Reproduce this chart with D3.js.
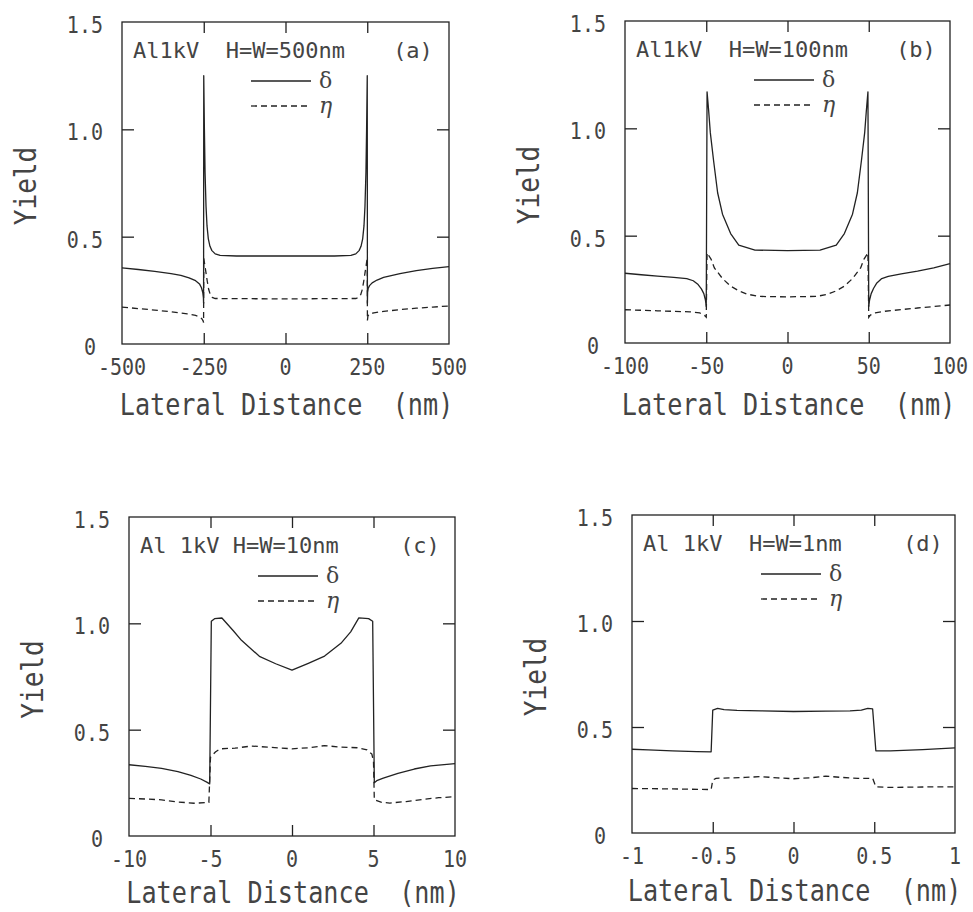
<!DOCTYPE html>
<html>
<head>
<meta charset="utf-8">
<script src="https://cdn.jsdelivr.net/npm/d3@7"></script>
<style>
  html, body { margin: 0; padding: 0; background: #fff; }
  svg { display: block; }
  text { font-family: 'DejaVu Sans Mono', monospace; fill: #444; }
</style>
</head>
<body>
<svg id="fig" width="973" height="912"></svg>
<script>
// ---- axis ticks and labels ----
const yTicks = [0, 0.5, 1.0, 1.5];
const yTickLabels = ["0", "0.5", "1.0", "1.5"];
const xTicksA = [-500, -250, 0, 250, 500];
const xTicksB = [-100, -50, 0, 50, 100];
const xTicksC = [-10, -5, 0, 5, 10];
const xTicksD = [-1, -0.5, 0, 0.5, 1];
const xTickLabelsA = ["-500", "-250", "0", "250", "500"];
const xTickLabelsB = ["-100", "-50", "0", "50", "100"];
const xTickLabelsC = ["-10", "-5", "0", "5", "10"];
const xTickLabelsD = ["-1", "-0.5", "0", "0.5", "1"];
const xAxisTitle = "Lateral Distance  (nm)";
const yAxisTitle = "Yield";
const legendNames = ["δ", "η"];

const titles = ["Al1kV  H=W=500nm", "Al1kV  H=W=100nm", "Al 1kV H=W=10nm", "Al 1kV  H=W=1nm"];
const tags = ["(a)", "(b)", "(c)", "(d)"];

// ---- yields vs lateral distance: [x (nm), yield] ----
// (a) H = W = 500 nm
const deltaA = [[-500,0.355],[-450,0.347],[-400,0.338],[-350,0.328],[-320,0.32],[-295,0.308],[-275,0.295],[-263,0.28],[-257,0.262],[-253,0.24],[-251,0.215],[-250.5,0.19],
  [-250,1.25],[-248,1.0],[-246,0.8],[-243,0.64],[-240,0.55],[-236,0.49],[-231,0.455],[-225,0.435],[-215,0.42],[-200,0.413],[-150,0.41],[0,0.41],[150,0.41],[200,0.413],[215,0.42],[225,0.435],[231,0.455],[236,0.49],[240,0.55],[243,0.64],[246,0.8],[248,1.0],[250,1.25],
  [250.5,0.19],[251,0.24],[253,0.26],[257,0.272],[265,0.285],[280,0.298],[300,0.31],[350,0.328],[400,0.342],[450,0.352],[500,0.36]];
const etaA = [[-500,0.172],[-450,0.165],[-400,0.158],[-350,0.15],[-300,0.14],[-275,0.133],[-262,0.126],[-256,0.118],[-252,0.108],[-250.5,0.1],
  [-250,0.4],[-247,0.37],[-243,0.33],[-239,0.29],[-235,0.255],[-230,0.23],[-224,0.217],[-215,0.212],[0,0.21],[215,0.212],[224,0.217],[230,0.23],[235,0.255],[239,0.29],[243,0.33],[247,0.37],[250,0.4],
  [250.5,0.11],[252,0.13],[256,0.14],[270,0.145],[300,0.152],[350,0.16],[400,0.167],[450,0.172],[500,0.177]];

// (b) H = W = 100 nm
const deltaB = [[-100,0.325],[-90,0.318],[-80,0.312],[-70,0.306],[-62,0.3],[-58,0.29],[-55,0.272],[-53,0.252],[-51.5,0.23],[-50.5,0.2],[-50,0.17],
  [-49.5,1.17],[-48.5,1.08],[-47.5,0.98],[-45.5,0.85],[-43,0.7],[-40,0.6],[-35,0.51],[-30,0.456],[-20,0.433],[0,0.43],[20,0.433],[30,0.456],[35,0.51],[40,0.6],[43,0.7],[45.5,0.85],[47.5,0.98],[48.5,1.08],[49.5,1.17],
  [50,0.17],[50.5,0.2],[51.5,0.23],[53,0.255],[55,0.28],[58,0.3],[62,0.31],[70,0.322],[80,0.335],[90,0.35],[100,0.37]];
const etaB = [[-100,0.155],[-80,0.15],[-60,0.145],[-54,0.14],[-51,0.128],[-50,0.12],
  [-49.5,0.42],[-47,0.39],[-45,0.35],[-40,0.3],[-35,0.265],[-30,0.243],[-25,0.228],[-18,0.217],[0,0.215],[18,0.217],[25,0.228],[30,0.243],[35,0.265],[40,0.3],[45,0.35],[47,0.39],[49.5,0.42],
  [50,0.12],[51,0.13],[54,0.14],[60,0.148],[80,0.163],[100,0.177]];

// (c) H = W = 10 nm
const deltaC = [[-10,0.335],[-9,0.327],[-8,0.318],[-7,0.303],[-6.2,0.285],[-5.6,0.268],[-5.2,0.252],[-5.05,0.245],
  [-4.95,1.01],[-4.75,1.022],[-4.3,1.025],[-3.6,0.965],[-3.1,0.92],[-2,0.845],[-1,0.81],[0,0.78],[1,0.812],[2,0.846],[3,0.906],[3.6,0.96],[4.1,1.026],[4.7,1.022],[4.95,1.01],
  [5.05,0.25],[5.2,0.26],[5.6,0.272],[6.5,0.295],[7.5,0.315],[8.5,0.33],[10,0.34]];
const etaC = [[-10,0.177],[-9,0.174],[-8,0.17],[-7,0.16],[-6,0.154],[-5.1,0.158],
  [-5,0.37],[-4.7,0.395],[-4.4,0.41],[-3.5,0.413],[-2.5,0.423],[-1.5,0.418],[0,0.41],[1,0.415],[2,0.425],[3,0.418],[4,0.415],[4.6,0.405],[4.9,0.385],[5,0.35],
  [5.05,0.17],[5.5,0.158],[6,0.155],[7,0.162],[8,0.172],[9,0.18],[10,0.185]];

// (d) H = W = 1 nm
const deltaD = [[-1,0.395],[-0.9,0.392],[-0.75,0.387],[-0.6,0.384],[-0.51,0.383],
  [-0.5,0.58],[-0.47,0.588],[-0.43,0.582],[-0.35,0.578],[-0.2,0.576],[0,0.573],[0.2,0.575],[0.35,0.576],[0.42,0.58],[0.46,0.588],[0.49,0.585],
  [0.51,0.388],[0.6,0.387],[0.8,0.393],[1,0.402]];
const etaD = [[-1,0.21],[-0.75,0.208],[-0.51,0.205],
  [-0.5,0.25],[-0.48,0.258],[-0.3,0.262],[-0.2,0.266],[-0.1,0.26],[0,0.256],[0.1,0.26],[0.2,0.268],[0.3,0.262],[0.4,0.258],[0.49,0.258],
  [0.51,0.218],[0.6,0.215],[0.8,0.217],[1,0.218]];

// ---- layout of the four panels ----
const panels = [
  { box: [122, 449, 22, 344],  titleDy: 71, ticks: xTicksA, labels: xTickLabelsA, delta: deltaA, eta: etaA },
  { box: [625, 950, 21, 343],  titleDy: 72, ticks: xTicksB, labels: xTickLabelsB, delta: deltaB, eta: etaB },
  { box: [129, 455, 517, 836], titleDy: 67, ticks: xTicksC, labels: xTickLabelsC, delta: deltaC, eta: etaC },
  { box: [632, 955, 515, 833], titleDy: 68, ticks: xTicksD, labels: xTickLabelsD, delta: deltaD, eta: etaD }
];

const INK = "#222";
const svg = d3.select("#fig");
svg.append("rect").attr("width", 973).attr("height", 912).attr("fill", "#fff");

function addText(g, x, y, str, size, sx, anchor, rot) {
  return g.append("text")
    .attr("transform", `translate(${x},${y})` + (rot ? ` rotate(${rot})` : "") + ` scale(${sx},1)`)
    .attr("text-anchor", anchor)
    .style("font-size", size + "px")
    .style("white-space", "pre")
    .text(str);
}

panels.forEach((p, i) => {
  const [x0, x1, y0, y1] = p.box;
  const g = svg.append("g");
  const x = d3.scaleLinear().domain([p.ticks[0], p.ticks[p.ticks.length - 1]]).range([x0, x1]);
  const y = d3.scaleLinear().domain([0, 1.5]).range([y1, y0]);

  // inward ticks on all four sides
  const inner = p.ticks.slice(1, -1);
  const yInner = yTicks.slice(1, -1);
  const axes = [
    [d3.axisBottom(x).tickValues(inner).tickSize(-11), `translate(0,${y1})`],
    [d3.axisTop(x).tickValues(inner).tickSize(-11), `translate(0,${y0})`],
    [d3.axisLeft(y).tickValues(yInner).tickSize(-12), `translate(${x0},0)`],
    [d3.axisRight(y).tickValues(yInner).tickSize(-12), `translate(${x1},0)`]
  ];
  axes.forEach(([ax, tr]) => {
    const a = g.append("g").attr("transform", tr).call(ax.tickFormat("").tickSizeOuter(0));
    a.select(".domain").remove();
    a.selectAll(".tick line").attr("stroke", INK).attr("stroke-width", 1.3);
  });

  // frame
  g.append("rect").attr("x", x0).attr("y", y0).attr("width", x1 - x0).attr("height", y1 - y0)
    .attr("fill", "none").attr("stroke", INK).attr("stroke-width", 1.3);

  // tick labels
  p.ticks.forEach((v, k) => addText(g, x(v), y1 + 31, p.labels[k], 23, 0.87, "middle"));
  yTicks.forEach((v, k) => {
    const right = v === 0 ? x0 - 26 : x0 - 19;
    addText(g, right, y(v) + 11, yTickLabels[k], 23, 0.87, "end");
  });

  // axis titles
  addText(g, (x0 + x1) / 2 + 1, y1 + p.titleDy, xAxisTitle, 30, 0.84, "middle");
  addText(g, x0 - 86, (y0 + y1) / 2 + 3, yAxisTitle, 30, 0.87, "middle", -90);

  // curves
  const line = d3.line().x(d => x(d[0])).y(d => y(d[1]));
  g.append("path").datum(p.delta).attr("d", line)
    .attr("fill", "none").attr("stroke", INK).attr("stroke-width", 1.3).attr("stroke-linejoin", "round");
  g.append("path").datum(p.eta).attr("d", line)
    .attr("fill", "none").attr("stroke", INK).attr("stroke-width", 1.3).attr("stroke-dasharray", "6,4");

  // panel annotation
  addText(g, x0 + 11, y0 + 36, titles[i], 22, 1, "start");
  addText(g, x0 + 291, y0 + 36, tags[i], 22, 1, "middle");

  // legend
  [[59, null], [84, "6,4"]].forEach(([dy, dash], k) => {
    g.append("line").attr("x1", x0 + 129).attr("x2", x0 + 189).attr("y1", y0 + dy).attr("y2", y0 + dy)
      .attr("stroke", INK).attr("stroke-width", 1.3).attr("stroke-dasharray", dash);
    g.append("text").attr("x", x0 + 197).attr("y", y0 + dy + 7)
      .style("font-family", "'DejaVu Serif', serif").style("font-size", "22px")
      .style("font-style", k === 1 ? "italic" : "normal")
      .text(legendNames[k]);
  });
});
</script>
</body>
</html>
